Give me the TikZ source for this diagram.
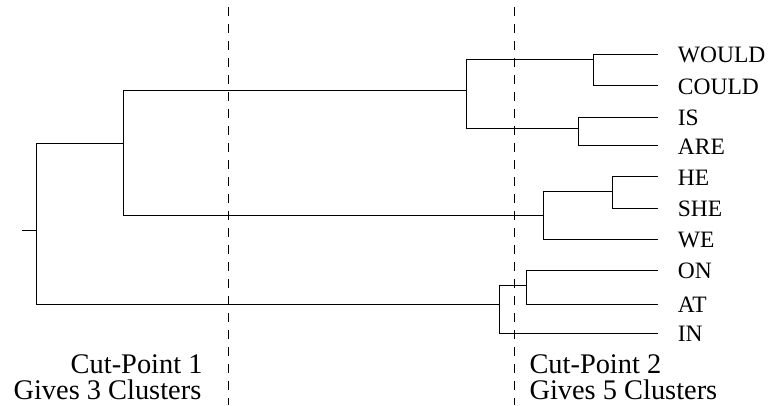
\documentclass[tikz,border=0pt]{standalone}
\usepackage{fontspec}
\setmainfont{Liberation Serif}
\begin{document}
\begin{tikzpicture}[x=1pt,y=-1pt,
  branch/.style={draw=black,line width=1pt},
  cutline/.style={draw=black,line width=1pt,dash pattern=on 9pt off 8pt},
  leaf/.style={inner sep=0pt,anchor=base west,font=\fontsize{23.5}{26}\selectfont},
  cutlabel/.style={inner sep=0pt,font=\fontsize{28.4}{30}\selectfont}]
\useasboundingbox (0,0) rectangle (770,405);
% leaf ends
\coordinate (lW) at (658.3,54.3);
\coordinate (lC) at (658.3,85.7);
\coordinate (lI) at (658.3,117.3);
\coordinate (lA) at (658.3,145.7);
\coordinate (lH) at (658.3,176.7);
\coordinate (lS) at (658.3,208.3);
\coordinate (lWe) at (658.3,239.3);
\coordinate (lO) at (658.3,270);
\coordinate (lAt) at (658.3,304.3);
\coordinate (lIn) at (658.3,333.3);
% labels
\node[leaf] (tW) at (677.7,62.8) {WOULD};
\node[leaf] (tC) at (677.7,94.2) {COULD};
\node[leaf] (tI) at (677.7,125.8) {IS};
\node[leaf] (tA) at (677.7,154.2) {ARE};
\node[leaf] (tH) at (677.7,185.2) {HE};
\node[leaf] (tS) at (677.7,216.8) {SHE};
\node[leaf] (tWe) at (677.7,247.8) {WE};
\node[leaf] (tO) at (677.7,278.5) {ON};
\node[leaf] (tAt) at (677.7,312.8) {AT};
\node[leaf] (tIn) at (677.7,341.8) {IN};
% internal nodes (x of vertical, y where parent enters)
\coordinate (n1) at (593.3,59.3);
\coordinate (n2) at (578.7,128.7);
\coordinate (n3) at (466,90.5);
\coordinate (n4) at (612.7,191.7);
\coordinate (n5) at (543,215.3);
\coordinate (n6) at (123.3,143.3);
\coordinate (n7) at (526.3,285.3);
\coordinate (n8) at (499.7,304.2);
\coordinate (root) at (36,230);
\coordinate (stub) at (22.3,230);
% branches
\path[branch] (n1) |- (lW) (n1) |- (lC);
\path[branch] (n2) |- (lI) (n2) |- (lA);
\path[branch] (n3) |- (n1) (n3) |- (n2);
\path[branch] (n4) |- (lH) (n4) |- (lS);
\path[branch] (n5) |- (n4) (n5) |- (lWe);
\path[branch] (n6) |- (n3) (n6) |- (n5);
\path[branch] (n7) |- (lO) (n7) |- (lAt);
\path[branch] (n8) |- (n7) (n8) |- (lIn);
\path[branch] (root) |- (n6) (root) |- (n8);
\path[branch] (stub) -- (root);
% cut lines
\coordinate (c1t) at (228.3,7);
\coordinate (c1b) at (228.3,405);
\coordinate (c2t) at (514,7);
\coordinate (c2b) at (514,405);
\path[cutline] (c1t) -- (c1b);
\path[cutline] (c2t) -- (c2b);
% cut labels
\node[cutlabel,anchor=base east] (cp1a) at (202.7,373.5) {Cut-Point 1};
\node[cutlabel,anchor=base east] (cp1b) at (201.5,399.5) {Gives 3 Clusters};
\node[cutlabel,anchor=base west] (cp2a) at (529.3,373.5) {Cut-Point 2};
\node[cutlabel,anchor=base west] (cp2b) at (529.3,399.5) {Gives 5 Clusters};
\end{tikzpicture}
\end{document}
